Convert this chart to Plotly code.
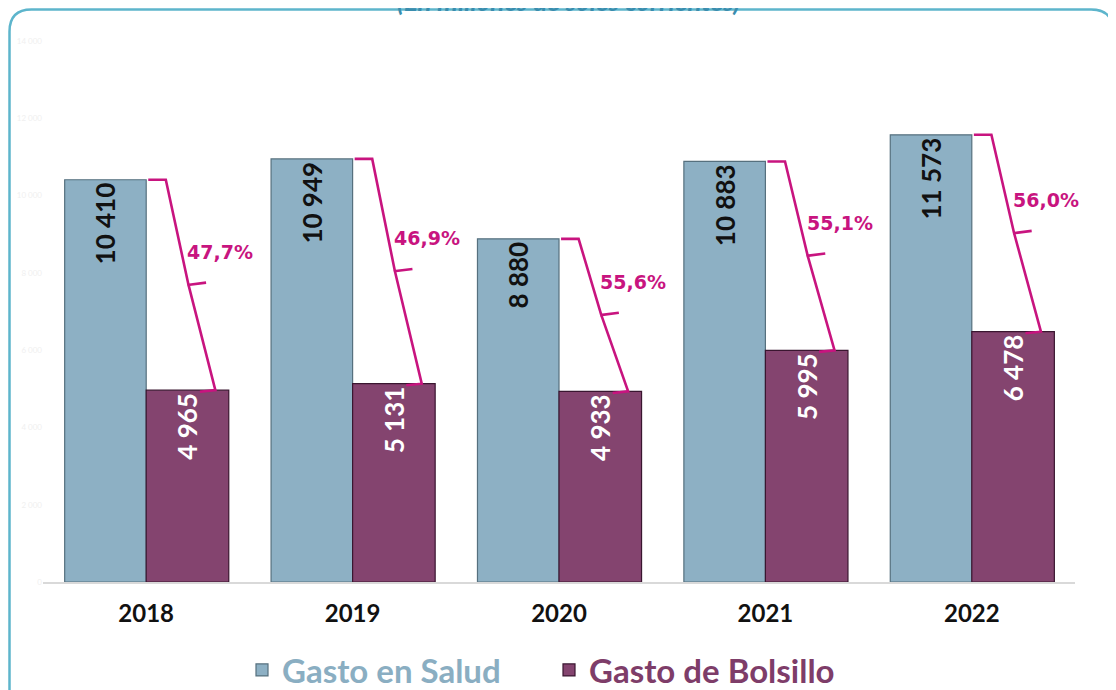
import plotly.graph_objects as go

# ---- data ---------------------------------------------------------------
years = ["2018", "2019", "2020", "2021", "2022"]
gasto_salud = [10410, 10949, 8880, 10883, 11573]
gasto_bolsillo = [4965, 5131, 4933, 5995, 6478]
share_labels = ["47,7%", "46,9%", "55,6%", "55,1%", "56,0%"]
subtitle = "(En millones de soles corrientes)"

BLUE = "#8DB0C4"
PURPLE = "#84446F"
MAGENTA = "#C8147F"
# the page body has an 8px margin, so the figure is a bit smaller than the window
OFF = 8
W, H = 1116 - OFF, 690 - OFF
L, R, T, B = 35, 41, 33, 108


def fmt(v):
    return f"{v:,}".replace(",", " ")


def px_x(p):  # window pixel -> paper
    return (p - OFF - L) / (W - L - R)


def px_y(p):
    return (H - B - (p - OFF)) / (H - T - B)


xs = list(range(len(years)))
fig = go.Figure()

fig.add_trace(go.Bar(
    x=xs, y=gasto_salud, name="<span style='color:#8AAEC2'>Gasto en Salud</span>",
    offset=-0.395, width=0.395,
    marker={"color": BLUE, "line": {"color": "#56707E", "width": 1.2}},
    text=[fmt(v) for v in gasto_salud], textposition="inside", insidetextanchor="end",
    textangle=-90, constraintext="none",
    insidetextfont={"family": "Lato", "size": 26, "color": "#111111", "weight": "bold"},
))
fig.add_trace(go.Bar(
    x=xs, y=gasto_bolsillo, name="<span style='color:#7E3D69'>Gasto de Bolsillo</span>",
    offset=0, width=0.4,
    marker={"color": PURPLE, "line": {"color": "#3A1630", "width": 1.2}},
    text=[fmt(v) for v in gasto_bolsillo], textposition="inside", insidetextanchor="end",
    textangle=-90, constraintext="none",
    insidetextfont={"family": "Lato", "size": 26, "color": "white", "weight": "bold"},
))

# brackets linking the two bars of each year
bx, by = [], []
for i, (a, b) in enumerate(zip(gasto_salud, gasto_bolsillo)):
    mid = (a + b) / 2
    bx += [i + 0.01, i + 0.095, i + 0.205, None,
           i + 0.2, i + 0.29, None,
           i + 0.205, i + 0.335, i + 0.26, None]
    by += [a, a, mid, None, mid, mid + 60, None, mid, b, b - 40, None]
    fig.add_annotation(x=i + 0.19, y=mid, xref="x", yref="y", text=share_labels[i],
                       showarrow=False, xanchor="left", yanchor="bottom", yshift=20,
                       font={"family": "DejaVu Sans", "size": 19, "color": MAGENTA,
                             "weight": "bold"})
fig.add_trace(go.Scatter(x=bx, y=by, mode="lines", showlegend=False, hoverinfo="skip",
                         line={"color": MAGENTA, "width": 2.6}))

# subtitle, mostly clipped at the top like the original
fig.add_annotation(x=px_x(568), y=px_y(19), xref="paper", yref="paper", text=subtitle,
                   showarrow=False, xanchor="center", yanchor="bottom",
                   font={"family": "Lato", "size": 26, "color": "#3A8DAE",
                         "weight": "bold", "style": "italic"})

# rounded frame
x0, x1, y0, y1, r = 9.5, 1113, 9.5, 720, 22
path = (f"M {px_x(x0)},{px_y(y1)} L {px_x(x0)},{px_y(y0 + r)} "
        f"Q {px_x(x0)},{px_y(y0)} {px_x(x0 + r)},{px_y(y0)} "
        f"L {px_x(x1 - r)},{px_y(y0)} Q {px_x(x1)},{px_y(y0)} {px_x(x1)},{px_y(y0 + r)} "
        f"L {px_x(x1)},{px_y(y1)}")
fig.add_shape(type="path", path=path, xref="paper", yref="paper",
              line={"color": "#5DB5CC", "width": 2.5}, layer="below")

fig.update_layout(
    width=W, height=H, margin={"l": L, "r": R, "t": T, "b": B, "autoexpand": False},
    paper_bgcolor="white", plot_bgcolor="white",
    separators=", ", barmode="overlay",
    font={"family": "Lato"},
    xaxis={"tickvals": xs, "ticktext": years, "range": [-0.5, len(years) - 0.5],
           "showgrid": False, "zeroline": False, "showline": True,
           "linecolor": "#D9D9D9", "linewidth": 2, "ticks": "", "ticklabelstandoff": 9,
           "tickfont": {"family": "Lato", "size": 24, "color": "#111111", "weight": "bold"}},
    yaxis={"range": [0, 14000], "dtick": 2000, "tickformat": ",d", "showgrid": False,
           "zeroline": False, "showline": False,
           "tickfont": {"size": 8, "color": "#F0F0F0"}},
    legend={"orientation": "h", "x": px_x(549), "xanchor": "center",
            "y": px_y(670), "yanchor": "middle",
            "font": {"family": "Lato", "size": 33, "weight": "bold"},
            "itemwidth": 30, "entrywidth": 262, "entrywidthmode": "pixels"},
    showlegend=True,
)

fig.write_html("out.html")
